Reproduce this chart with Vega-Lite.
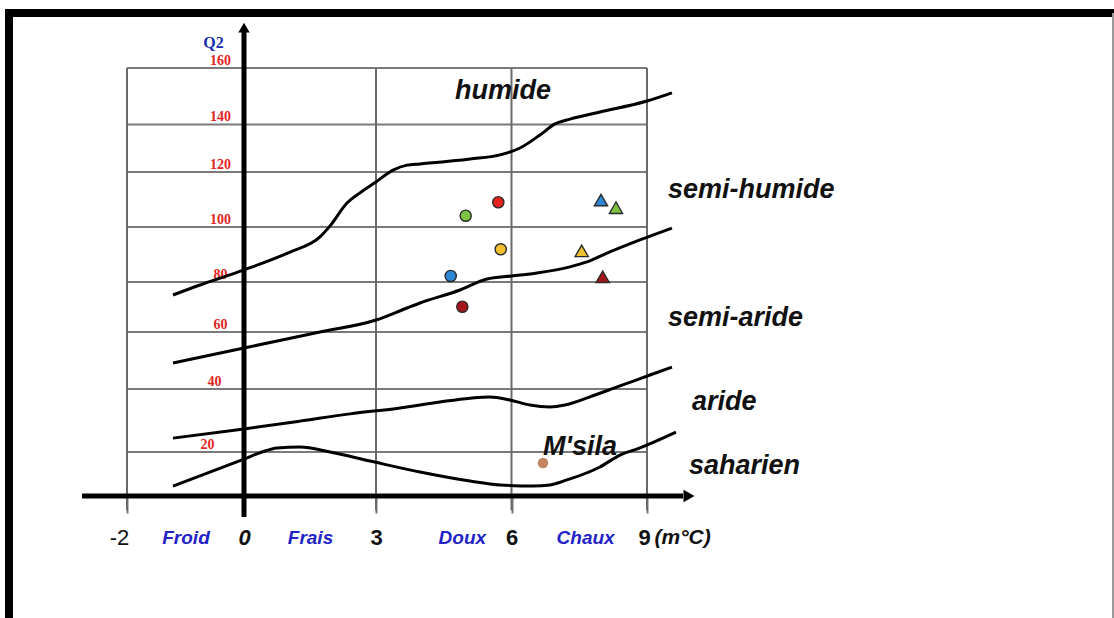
{
  "$schema": "https://vega.github.io/schema/vega-lite/v6.json",
  "width": 1114,
  "height": 618,
  "autosize": "none",
  "padding": 0,
  "background": "white",
  "config": {"view": {"stroke": null}},
  "datasets": {
    "hgrid": [{"Q": 20}, {"Q": 40}, {"Q": 60}, {"Q": 80}, {"Q": 100}, {"Q": 120}, {"Q": 140}, {"Q": 160}],
    "vgrid": [{"T": -2}, {"T": 3}, {"T": 6}, {"T": 9}],
    "curves": [
      {"c": "humide", "T": -1.214, "Q": 74.8}, {"c": "humide", "T": -0.752, "Q": 78.8}, {"c": "humide", "T": 0, "Q": 84.4},
      {"c": "humide", "T": 1.045, "Q": 90.9}, {"c": "humide", "T": 1.727, "Q": 96.4}, {"c": "humide", "T": 1.955, "Q": 100.4},
      {"c": "humide", "T": 2.341, "Q": 108.7}, {"c": "humide", "T": 2.636, "Q": 112.4}, {"c": "humide", "T": 3.0, "Q": 116.4},
      {"c": "humide", "T": 3.376, "Q": 120.8}, {"c": "humide", "T": 3.686, "Q": 122.9}, {"c": "humide", "T": 3.974, "Q": 123.4},
      {"c": "humide", "T": 5.081, "Q": 125.5}, {"c": "humide", "T": 5.745, "Q": 127.2}, {"c": "humide", "T": 6.188, "Q": 130.1},
      {"c": "humide", "T": 6.631, "Q": 135.6}, {"c": "humide", "T": 6.963, "Q": 140.2}, {"c": "humide", "T": 7.295, "Q": 141.9},
      {"c": "humide", "T": 7.959, "Q": 144.4}, {"c": "humide", "T": 9.0, "Q": 148.3}, {"c": "humide", "T": 9.553, "Q": 151.2},
      {"c": "semi", "T": -1.214, "Q": 49.1}, {"c": "semi", "T": 0, "Q": 54.4}, {"c": "semi", "T": 1.727, "Q": 60.0},
      {"c": "semi", "T": 3.0, "Q": 64.8}, {"c": "semi", "T": 3.686, "Q": 69.6}, {"c": "semi", "T": 3.974, "Q": 71.6},
      {"c": "semi", "T": 4.86, "Q": 76.8}, {"c": "semi", "T": 5.457, "Q": 81.1}, {"c": "semi", "T": 6.0, "Q": 82.2},
      {"c": "semi", "T": 6.565, "Q": 83.3}, {"c": "semi", "T": 7.295, "Q": 85.5}, {"c": "semi", "T": 7.671, "Q": 87.3},
      {"c": "semi", "T": 8.114, "Q": 90.5}, {"c": "semi", "T": 8.845, "Q": 95.3}, {"c": "semi", "T": 9.553, "Q": 99.6},
      {"c": "aride", "T": -1.214, "Q": 24.4}, {"c": "aride", "T": 0, "Q": 27.3}, {"c": "aride", "T": 1.273, "Q": 29.8},
      {"c": "aride", "T": 2.409, "Q": 32.1}, {"c": "aride", "T": 3.531, "Q": 34.0}, {"c": "aride", "T": 4.417, "Q": 35.9},
      {"c": "aride", "T": 5.081, "Q": 37.1}, {"c": "aride", "T": 5.524, "Q": 37.5}, {"c": "aride", "T": 5.967, "Q": 36.5},
      {"c": "aride", "T": 6.41, "Q": 34.9}, {"c": "aride", "T": 6.852, "Q": 34.3}, {"c": "aride", "T": 7.184, "Q": 34.9},
      {"c": "aride", "T": 7.738, "Q": 37.5}, {"c": "aride", "T": 8.402, "Q": 41.1}, {"c": "aride", "T": 9.066, "Q": 44.9},
      {"c": "aride", "T": 9.553, "Q": 47.7},
      {"c": "saharien", "T": -1.214, "Q": 4.5}, {"c": "saharien", "T": 0, "Q": 16.8}, {"c": "saharien", "T": 0.409, "Q": 20.0},
      {"c": "saharien", "T": 0.75, "Q": 21.3}, {"c": "saharien", "T": 1.273, "Q": 21.6}, {"c": "saharien", "T": 1.955, "Q": 20.0},
      {"c": "saharien", "T": 2.864, "Q": 15.9}, {"c": "saharien", "T": 3.974, "Q": 10.9}, {"c": "saharien", "T": 5.081, "Q": 6.8},
      {"c": "saharien", "T": 5.745, "Q": 5.0}, {"c": "saharien", "T": 6.476, "Q": 4.5}, {"c": "saharien", "T": 6.852, "Q": 5.0},
      {"c": "saharien", "T": 7.229, "Q": 7.3}, {"c": "saharien", "T": 7.959, "Q": 13.2}, {"c": "saharien", "T": 8.402, "Q": 18.6},
      {"c": "saharien", "T": 8.845, "Q": 21.3}, {"c": "saharien", "T": 9.642, "Q": 26.3}
    ],
    "stations": [
      {"T": 4.986, "Q": 104.1, "shp": "rond", "col": "vert"},
      {"T": 5.708, "Q": 109.0, "shp": "rond", "col": "rouge"},
      {"T": 5.761, "Q": 91.9, "shp": "rond", "col": "jaune"},
      {"T": 4.654, "Q": 82.2, "shp": "rond", "col": "bleu"},
      {"T": 4.911, "Q": 70.1, "shp": "rond", "col": "bordeaux"},
      {"T": 7.981, "Q": 109.8, "shp": "triangle", "col": "bleu"},
      {"T": 8.313, "Q": 107.0, "shp": "triangle", "col": "vert"},
      {"T": 7.554, "Q": 91.3, "shp": "triangle", "col": "jaune"},
      {"T": 8.019, "Q": 81.9, "shp": "triangle", "col": "bordeaux"}
    ],
    "msila": [{"T": 6.697, "Q": 15.0}],
    "labels": [
      {"lab": "humide", "T": 4.749, "Q": 151.9},
      {"lab": "semi-humide", "T": 9.465, "Q": 113.5},
      {"lab": "semi-aride", "T": 9.465, "Q": 65.6},
      {"lab": "aride", "T": 9.996, "Q": 35.9},
      {"lab": "saharien", "T": 9.93, "Q": 13.6},
      {"lab": "M'sila", "T": 6.697, "Q": 21.6}
    ]
  },
  "layer": [
    {
      "data": {"values": [{}]},
      "mark": {"type": "rule", "color": "#000000", "strokeWidth": 8},
      "encoding": {"x": {"datum": -4.017, "type": "quantitative"}, "y": {"datum": 179.5, "type": "quantitative"}, "y2": {"datum": -60}}
    },
    {
      "data": {"values": [{}]},
      "mark": {"type": "rule", "color": "#000000", "strokeWidth": 8},
      "encoding": {"y": {"datum": 179.5, "type": "quantitative"}, "x": {"datum": -4.085, "type": "quantitative"}, "x2": {"datum": 19.4}}
    },
    {
      "data": {"values": [{}]},
      "mark": {"type": "rule", "color": "#9a9a9a", "strokeWidth": 2},
      "encoding": {"x": {"datum": 19.317, "type": "quantitative"}, "y": {"datum": 179.5, "type": "quantitative"}, "y2": {"datum": -60}}
    },
    {
      "data": {"name": "hgrid"},
      "mark": {"type": "rule", "color": "#7a7a7a", "strokeWidth": 2},
      "encoding": {"y": {"field": "Q", "type": "quantitative"}, "x": {"datum": -2, "type": "quantitative"}, "x2": {"datum": 9}}
    },
    {
      "data": {"name": "vgrid"},
      "mark": {"type": "rule", "color": "#6a6a6a", "strokeWidth": 2},
      "encoding": {"x": {"field": "T", "type": "quantitative"}, "y": {"datum": -6.5, "type": "quantitative"}, "y2": {"datum": 160}}
    },
    {
      "data": {"name": "curves"},
      "mark": {"type": "line", "color": "#000000", "strokeWidth": 3, "interpolate": "monotone"},
      "encoding": {
        "detail": {"field": "c", "type": "nominal"},
        "x": {
          "field": "T", "type": "quantitative",
          "scale": {"domain": [-2, 0, 3, 6, 9], "range": [127, 244, 376, 511.5, 647], "zero": false, "nice": false},
          "axis": {
            "values": [-2, -1, 0, 1.5, 3, 4.9, 6, 7.63, 9],
            "labelExpr": "datum.value == -2 ? '-2' : datum.value == -1 ? 'Froid' : datum.value == 1.5 ? 'Frais' : datum.value == 4.9 ? 'Doux' : datum.value == 7.63 ? 'Chaux' : format(datum.value, 'd')",
            "domain": false, "grid": false, "offset": -122,
            "tickSize": 17, "tickWidth": 2, "tickColor": "#777777",
            "tickOpacity": {"condition": {"test": "datum.value == -2 || datum.value == 3 || datum.value == 6 || datum.value == 9", "value": 1}, "value": 0},
            "labelPadding": 24, "labelBaseline": "middle",
            "labelFont": "Liberation Sans",
            "labelFontSize": {"condition": {"test": "datum.value == -1 || datum.value == 1.5 || datum.value == 4.9 || datum.value == 7.63", "value": 19}, "value": 22},
            "labelFontWeight": {"condition": {"test": "datum.value == -2", "value": "normal"}, "value": "bold"},
            "labelFontStyle": {"condition": {"test": "datum.value == -1 || datum.value == 1.5 || datum.value == 4.9 || datum.value == 7.63 || datum.value == 0", "value": "italic"}, "value": "normal"},
            "labelColor": {"condition": {"test": "datum.value == -1 || datum.value == 1.5 || datum.value == 4.9 || datum.value == 7.63", "value": "#2323c8"}, "value": "#111111"},
            "labelOffset": {"condition": [{"test": "datum.value == -2", "value": -8}, {"test": "datum.value == 9", "value": -3}], "value": 0},
            "labelFlush": false, "labelOverlap": false, "labelBound": false,
            "title": "(m°C)", "titleX": 654, "titleY": 41, "titleAlign": "left", "titleBaseline": "middle", "titleAnchor": null,
            "titleFont": "Liberation Sans", "titleFontSize": 21, "titleFontWeight": "bold", "titleFontStyle": "italic", "titleColor": "#111111"
          }
        },
        "y": {
          "field": "Q", "type": "quantitative",
          "scale": {"domain": [0, 20, 40, 60, 80, 100, 120, 140, 160], "range": [496, 452, 389, 332, 282, 227, 172, 124.5, 68], "zero": false, "nice": false},
          "axis": {
            "values": [20, 40, 60, 80, 100, 120, 140, 160],
            "domain": false, "grid": false, "ticks": false, "offset": -244,
            "labelColor": "#e3241e", "labelFont": "Liberation Serif", "labelFontWeight": "bold", "labelFontSize": 14,
            "labelAlign": "center", "labelBaseline": "middle", "labelOffset": -8,
            "labelPadding": {"condition": [{"test": "datum.value == 20", "value": 37}, {"test": "datum.value == 40", "value": 30}], "value": 24},
            "labelOverlap": false,
            "title": "Q2", "titleAngle": 0, "titleX": -31, "titleY": 42.5, "titleAlign": "center", "titleBaseline": "middle", "titleAnchor": null,
            "titleColor": "#1b2fb0", "titleFont": "Liberation Serif", "titleFontSize": 16, "titleFontWeight": "bold"
          }
        }
      }
    },
    {
      "data": {"values": [{}]},
      "mark": {"type": "rule", "color": "#000000", "strokeWidth": 5},
      "encoding": {"y": {"datum": 0, "type": "quantitative"}, "x": {"datum": -2.769, "type": "quantitative"}, "x2": {"datum": 9.8}}
    },
    {
      "data": {"values": [{}]},
      "mark": {"type": "rule", "color": "#000000", "strokeWidth": 5},
      "encoding": {"x": {"datum": 0, "type": "quantitative"}, "y": {"datum": -9.5, "type": "quantitative"}, "y2": {"datum": 173}}
    },
    {
      "data": {"values": [{}]},
      "mark": {"type": "point", "shape": "triangle-right", "filled": true, "color": "#000000", "size": 160, "opacity": 1},
      "encoding": {"x": {"datum": 9.93, "type": "quantitative"}, "y": {"datum": 0, "type": "quantitative"}}
    },
    {
      "data": {"values": [{}]},
      "mark": {"type": "point", "shape": "triangle-up", "filled": true, "color": "#000000", "size": 130, "opacity": 1},
      "encoding": {"x": {"datum": 0, "type": "quantitative"}, "y": {"datum": 174.3, "type": "quantitative"}}
    },
    {
      "data": {"name": "stations"},
      "mark": {"type": "point", "filled": true, "stroke": "#2a2a2a", "strokeWidth": 1.4, "opacity": 1},
      "encoding": {
        "x": {"field": "T", "type": "quantitative"},
        "y": {"field": "Q", "type": "quantitative"},
        "color": {"field": "col", "type": "nominal", "scale": {"domain": ["vert", "rouge", "jaune", "bleu", "bordeaux"], "range": ["#7cc243", "#e5221f", "#f0c030", "#2e88d8", "#a3161a"]}, "legend": null},
        "shape": {"field": "shp", "type": "nominal", "scale": {"domain": ["rond", "triangle"], "range": ["circle", "triangle-up"]}, "legend": null},
        "size": {"field": "shp", "type": "nominal", "scale": {"domain": ["rond", "triangle"], "range": [125, 175]}, "legend": null}
      }
    },
    {
      "data": {"name": "msila"},
      "mark": {"type": "point", "filled": true, "size": 110, "color": "#c58560", "opacity": 1},
      "encoding": {"x": {"field": "T", "type": "quantitative"}, "y": {"field": "Q", "type": "quantitative"}}
    },
    {
      "data": {"name": "labels"},
      "mark": {"type": "text", "align": "left", "baseline": "middle", "font": "Liberation Sans", "fontSize": 27, "fontWeight": "bold", "fontStyle": "italic", "color": "#111111"},
      "encoding": {"x": {"field": "T", "type": "quantitative"}, "y": {"field": "Q", "type": "quantitative"}, "text": {"field": "lab", "type": "nominal"}}
    }
  ]
}
